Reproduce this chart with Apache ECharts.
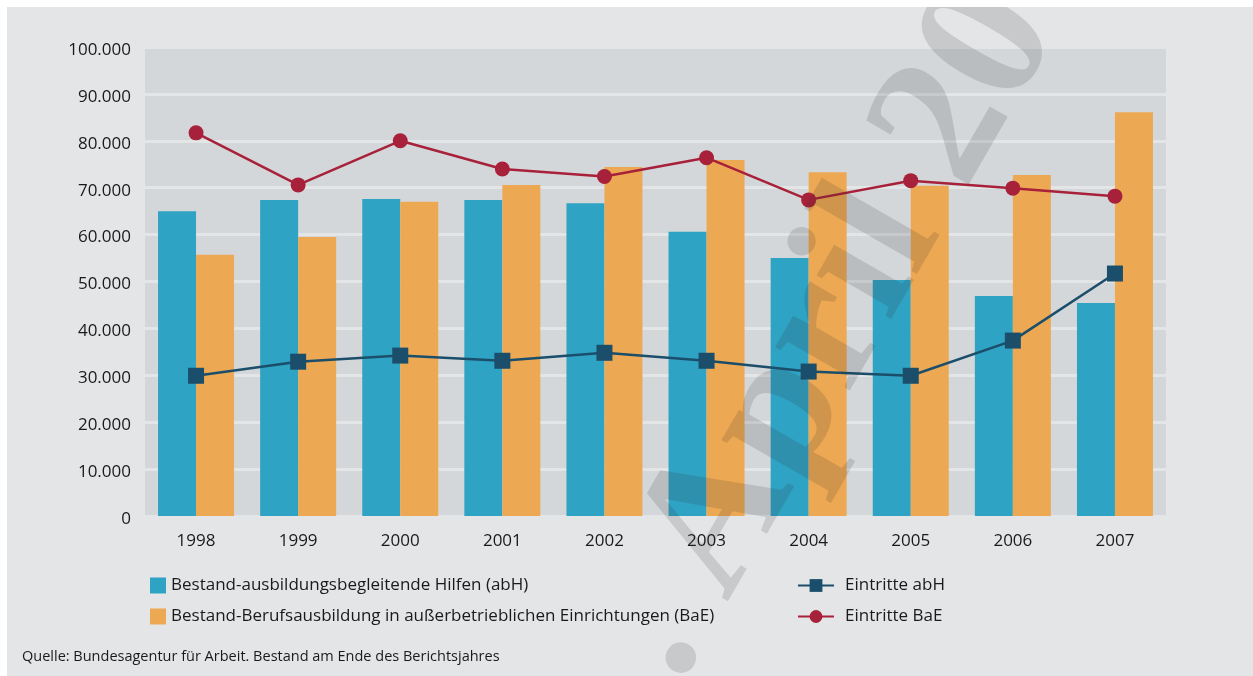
<!DOCTYPE html>
<html>
<head>
<meta charset="utf-8">
<script src="https://cdn.jsdelivr.net/npm/echarts@6/dist/echarts.min.js"></script>
<style>
  html, body { margin: 0; padding: 0; background: #ffffff; }
  #chart { position: absolute; left: 7px; top: 7px; width: 1246px; height: 669px; }
</style>
</head>
<body>
<div id="chart"></div>
<script>
var years = ['1998', '1999', '2000', '2001', '2002', '2003', '2004', '2005', '2006', '2007']
var bestandAbH = [65000, 67400, 67600, 67400, 66700, 60600, 55000, 50300, 46900, 45400]
var bestandBaE = [55700, 59500, 67000, 70600, 74400, 75900, 73300, 70400, 72700, 86100]
var eintritteAbH = [29900, 32900, 34200, 33100, 34800, 33100, 30800, 29900, 37400, 51700]
var eintritteBaE = [81700, 70600, 80000, 74000, 72400, 76400, 67400, 71500, 69900, 68200]
var sourceNote = 'Quelle: Bundesagentur für Arbeit. Bestand am Ende des Berichtsjahres'
var watermark = '. April 2009'

var font = 'Open Sans'
var textColor = '#1a1a1a'

function germanNumber (v) {
  return String(v).replace(/\B(?=(\d{3})+(?!\d))/g, '.')
}

var myChart = echarts.init(document.getElementById('chart'))
var option = {
  backgroundColor: '#e4e5e7',
  animation: false,
  grid: {
    left: 138,
    right: 87,
    top: 40,
    bottom: 160,
    show: true,
    backgroundColor: '#d4d7da',
    borderWidth: 0
  },
  legend: [{
    data: ['Bestand-ausbildungsbegleitende Hilfen (abH)', 'Bestand-Berufsausbildung in außerbetrieblichen Einrichtungen (BaE)'],
    orient: 'vertical',
    left: 138,
    top: 565,
    itemWidth: 16,
    itemHeight: 16,
    itemGap: 14,
    icon: 'rect',
    textStyle: { fontFamily: font, fontSize: 17, color: textColor, padding: [0, 0, 0, 0] }
  }, {
    data: ['Eintritte abH', 'Eintritte BaE'],
    orient: 'vertical',
    left: 785,
    top: 565,
    itemWidth: 36,
    itemHeight: 16,
    itemGap: 14,
    textStyle: { fontFamily: font, fontSize: 17, color: textColor, padding: [0, 0, 0, 6] }
  }],
  xAxis: {
    type: 'category',
    data: years,
    axisLine: { show: false },
    axisTick: { show: false },
    axisLabel: { fontFamily: font, fontSize: 17, color: textColor, margin: 17 }
  },
  yAxis: {
    type: 'value',
    min: 0,
    max: 100000,
    interval: 10000,
    axisLine: { show: false },
    axisTick: { show: false },
    axisLabel: {
      fontFamily: font,
      fontSize: 17,
      color: textColor,
      margin: 14,
      verticalAlign: 'top',
      lineHeight: 6,
      formatter: function (value) {
        return germanNumber(value)
      }
    },
    splitLine: { lineStyle: { color: '#e4e5e7', width: 3 } }
  },
  series: [{
    name: 'Bestand-ausbildungsbegleitende Hilfen (abH)',
    type: 'bar',
    data: bestandAbH,
    barWidth: 38,
    barGap: '0%',
    itemStyle: { color: '#2fa3c4' }
  }, {
    name: 'Bestand-Berufsausbildung in außerbetrieblichen Einrichtungen (BaE)',
    type: 'bar',
    data: bestandBaE,
    barWidth: 38,
    itemStyle: { color: '#eda853' }
  }, {
    name: 'Eintritte abH',
    type: 'line',
    data: eintritteAbH,
    symbol: 'rect',
    symbolSize: 16,
    lineStyle: { color: '#1b4e6b', width: 2.5 },
    itemStyle: { color: '#1b4e6b' },
    z: 5
  }, {
    name: 'Eintritte BaE',
    type: 'line',
    data: eintritteBaE,
    symbol: 'circle',
    symbolSize: 15,
    lineStyle: { color: '#a8213a', width: 2.5 },
    itemStyle: { color: '#a8213a' },
    z: 5
  }],
  graphic: [{
    type: 'text',
    left: 15,
    top: 642,
    style: { text: sourceNote, fontFamily: font, fontSize: 14.5, fill: textColor }
  }, {
    type: 'text',
    x: 631,
    y: 653,
    rotation: Math.PI / 3,
    z: 100,
    silent: true,
    style: {
      text: watermark,
      fontFamily: 'Liberation Serif',
      fontWeight: 'bold',
      fontSize: 188,
      fill: 'rgba(40,40,40,0.15)',
      textAlign: 'left',
      textVerticalAlign: 'middle'
    }
  }]
}
myChart.setOption(option, true)
</script>
</body>
</html>
